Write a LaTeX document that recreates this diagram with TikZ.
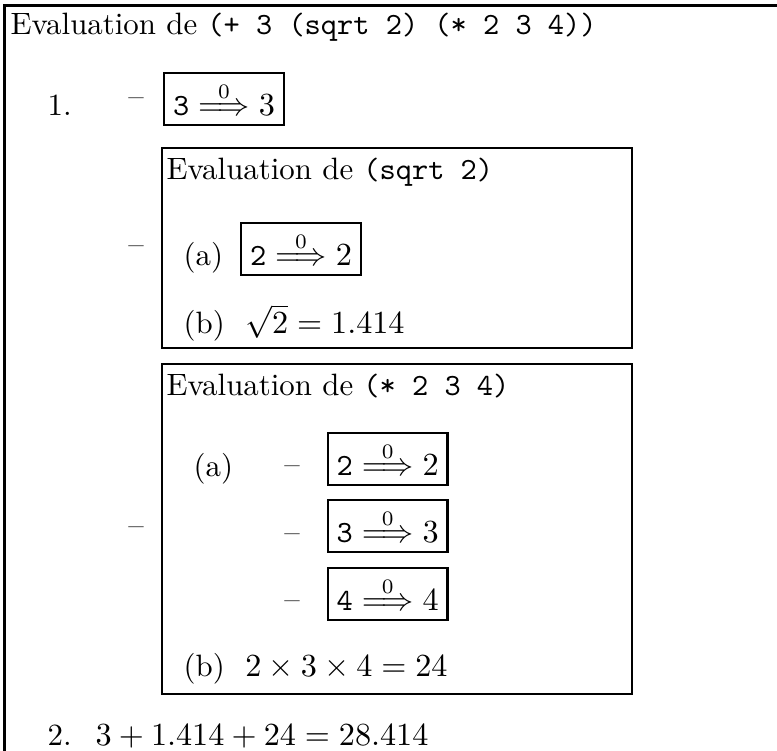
\documentclass[tikz,border=0pt]{standalone}
\usepackage{amsmath}
\usepackage{amssymb}
\usepackage{tikz}
\usetikzlibrary{positioning}

\newcommand{\evalpas}[1]{$\texttt{#1}\stackrel{0}{\Longrightarrow}#1$}

\begin{document}
\begin{tikzpicture}[x=0.34pt,y=-0.34pt,
    font=\fontsize{10.5}{12.6}\selectfont,
    txt/.style={inner sep=0pt,anchor=base west},
    tiret/.style={inner sep=0pt,anchor=center},
    valbox/.style={draw,line width=0.8pt,inner sep=3pt,anchor=base west},
    cadre/.style={line width=0.8pt}]

\useasboundingbox (0,0) rectangle (777,751);

% cadre exterieur
\coordinate (cbas) at (4.5,751);
\coordinate (chg) at (4.5,5.5);
\coordinate (chd) at (777,5.5);
\draw[cadre] (cbas) -- (chg) -- (chd);

\node[txt] (titre) at (10,35) {Evaluation de \texttt{(+ 3 (sqrt 2) (* 2 3 4))}};

% etape 1
\node[txt] (un) at (47,116) {1.};
\node[tiret] (t1) at (136,102) {--};
\node[valbox] (v3) at (163,116) {\evalpas{3}};

\node[tiret] (t2) at (136,250) {--};
\draw[cadre] (161.7,148.3) rectangle (631.7,347.7);
\node[txt] (sqtitre) at (166,180) {Evaluation de \texttt{(sqrt 2)}};
\node[txt] (sqa) at (183,266) {(a)};
\node[valbox] (v2) at (240,266) {\evalpas{2}};
\node[txt] (sqb) at (183,334) {(b) \ $\sqrt{2} = 1.414$};

\node[tiret] (t3) at (136,531) {--};
\draw[cadre] (161.7,364) rectangle (631.7,693.7);
\node[txt] (multitre) at (166,396) {Evaluation de \texttt{(* 2 3 4)}};
\node[txt] (mula) at (193,477) {(a)};
\node[tiret] (ta) at (292,470) {--};
\node[tiret] (tb) at (292,538) {--};
\node[tiret] (tc) at (292,605) {--};
\node[valbox] (va) at (326.7,476) {\evalpas{2}};
\node[valbox] (vb) at (326.7,543) {\evalpas{3}};
\node[valbox] (vc) at (326.7,611) {\evalpas{4}};
\node[txt] (mulb) at (183,676) {(b) \ $2 \times 3 \times 4 = 24$};

% etape 2
\node[txt] (deux) at (47,745) {2. \ $3 + 1.414 + 24 = 28.414$};

\end{tikzpicture}
\end{document}
